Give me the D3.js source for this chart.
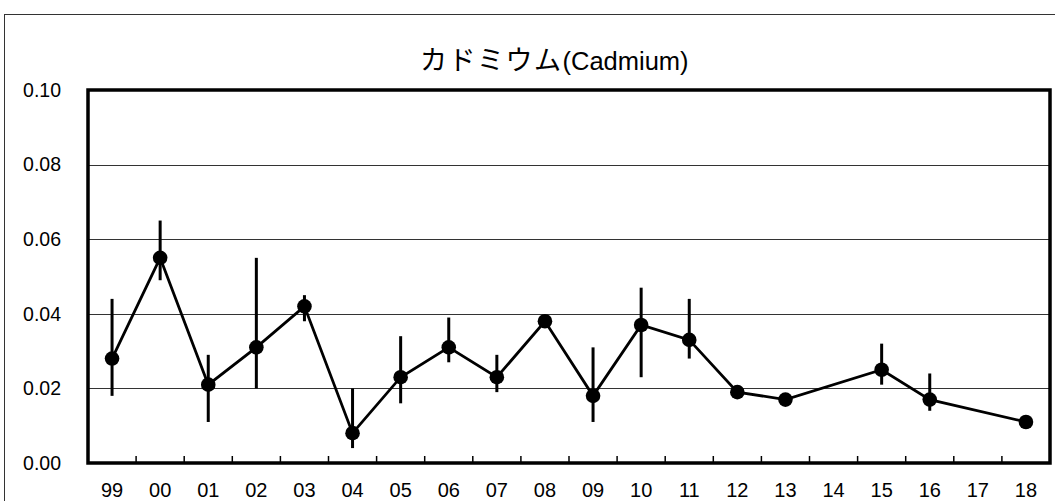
<!DOCTYPE html>
<html><head><meta charset="utf-8">
<script src="https://cdn.jsdelivr.net/npm/d3@7/dist/d3.min.js"></script>
<style>body{margin:0;background:#fff}svg{display:block}</style>
</head><body>
<svg id="c" width="1055" height="501"></svg>
<script>
const years = ["99","00","01","02","03","04","05","06","07","08","09","10","11","12","13","14","15","16","17","18"];
const means = [0.028,0.055,0.021,0.031,0.042,0.008,0.023,0.031,0.023,0.038,0.018,0.037,0.033,0.019,0.017,null,0.025,0.017,null,0.011];
const errHi = [0.044,0.065,0.029,0.055,0.045,0.020,0.034,0.039,0.029,null,0.031,0.047,0.044,null,null,null,0.032,0.024,null,null];
const errLo = [0.018,0.049,0.011,0.020,0.038,0.004,0.016,0.027,0.019,null,0.011,0.023,0.028,null,null,null,0.021,0.014,null,null];
const yTicks = [0,0.02,0.04,0.06,0.08,0.10];
const titleJa = "カドミウム";
const titleEn = "(Cadmium)";

const svg = d3.select("#c");
const L=88, R=1050, T=90, B=463;
const x = d3.scaleBand().domain(years).range([L,R]);
const y = d3.scaleLinear().domain([0,0.10]).range([B,T]);
const cjk = "'Noto Sans CJK JP', sans-serif";
const num = "'Liberation Sans', Arial, sans-serif";

svg.append("rect").attr("x",4.5).attr("y",14.5).attr("width",1070).attr("height",520)
  .attr("fill","none").attr("stroke","#333").attr("stroke-width",1);

const t = svg.append("text").attr("x",420).attr("y",70)
  .attr("font-family",cjk).attr("font-size",27);
t.append("tspan").attr("letter-spacing",1.5).text(titleJa);
t.append("tspan").attr("font-family",num).attr("font-size",25.5).text(titleEn);

// grid
svg.append("g").selectAll("line").data(yTicks.slice(1,-1)).join("line")
  .attr("x1",L).attr("x2",R).attr("y1",d=>Math.round(y(d))+0.5).attr("y2",d=>Math.round(y(d))+0.5)
  .attr("stroke","#333").attr("stroke-width",1.2);

// y axis labels
const ya = svg.append("g").attr("transform",`translate(${L},0)`)
  .call(d3.axisLeft(y).tickValues(yTicks).tickFormat(d3.format(".2f")).tickSize(0).tickPadding(27));
ya.select(".domain").remove();
ya.selectAll("text").attr("font-family",num).attr("font-size",19.5).attr("fill","#000");

// x axis: ticks inward at band boundaries
const xa = svg.append("g").attr("transform",`translate(0,${B})`)
  .call(d3.axisBottom(x).tickSize(0).tickPadding(20));
xa.select(".domain").remove();
xa.selectAll("text").attr("font-family",num).attr("font-size",20).attr("fill","#000");
svg.append("g").selectAll("line").data(years.slice(1)).join("line")
  .attr("x1",d=>x(d)).attr("x2",d=>x(d)).attr("y1",B).attr("y2",B-7)
  .attr("stroke","#000").attr("stroke-width",1.5);

// plot frame
svg.append("rect").attr("x",L).attr("y",T).attr("width",R-L).attr("height",B-T)
  .attr("fill","none").attr("stroke","#000").attr("stroke-width",3.5);

const cx = d=>x(d)+x.bandwidth()/2;
const pts = years.map((yr,i)=>({yr,v:means[i],hi:errHi[i],lo:errLo[i]}));

// error bars
svg.append("g").selectAll("line").data(pts.filter(p=>p.hi!=null)).join("line")
  .attr("x1",p=>cx(p.yr)).attr("x2",p=>cx(p.yr)).attr("y1",p=>y(p.hi)).attr("y2",p=>y(p.lo))
  .attr("stroke","#000").attr("stroke-width",3);

// line (skipping missing years)
const defined = pts.filter(p=>p.v!=null);
svg.append("path").datum(defined)
  .attr("d",d3.line().x(p=>cx(p.yr)).y(p=>y(p.v)))
  .attr("fill","none").attr("stroke","#000").attr("stroke-width",2.8);

svg.append("g").selectAll("circle").data(defined).join("circle")
  .attr("cx",p=>cx(p.yr)).attr("cy",p=>y(p.v)).attr("r",7.3).attr("fill","#000");
</script>
</body></html>
